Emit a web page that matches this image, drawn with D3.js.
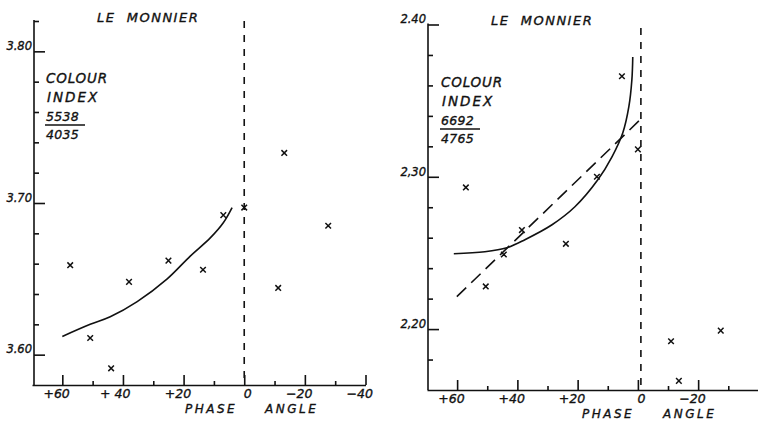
<!DOCTYPE html>
<html>
<head>
<meta charset="utf-8">
<script src="https://cdn.jsdelivr.net/npm/d3@7"></script>
<style>
  body { margin: 0; background: #fff; }
  svg { display: block; }
  text { font-family: "DejaVu Sans", sans-serif; font-style: italic; fill: #111; stroke: #111; stroke-width: 0.35px; }
</style>
</head>
<body>
<script>
// Phase angle axis (degrees)
const majorPhase = [60, 40, 20, 0, -20, -40];
const minorPhase = [50, 30, 10, -10, -30];

// Left panel: colour index 5538/4035
const leftYMajor = [3.60, 3.70, 3.80];
const leftYMajorLabels = ["3.60", "3.70", "3.80"];
const leftYMinor = [3.62, 3.64, 3.66, 3.68, 3.72, 3.74, 3.76, 3.78, 3.82];
const leftXLabels = ["+60", "+ 40", "+20", "0", "\u221220", "\u221240"];
const leftObsPhase = [57.4, 50.8, 43.9, 38.0, 25.0, 13.6, 6.9, 0.0, -13.2, -11.2, -27.7];
const leftObsIndex = [3.659, 3.611, 3.591, 3.648, 3.662, 3.656, 3.692, 3.697, 3.733, 3.644, 3.685];
const leftCurvePhase = [60, 50.8, 44.2, 35.3, 25.4, 17.8, 11.2, 6.9, 4.0];
const leftCurveIndex = [3.612, 3.620, 3.625, 3.635, 3.650, 3.665, 3.677, 3.687, 3.697];

// Right panel: colour index 6692/4765
const rightYMajor = [2.20, 2.30, 2.40];
const rightYMajorLabels = ["2,20", "2,30", "2.40"];
const rightYMinor = [2.18, 2.22, 2.24, 2.26, 2.28, 2.32, 2.34, 2.36, 2.38];
const rightXLabels = ["+60", "+40", "+20", "0", "\u221220"];
const rightObsPhase = [57.1, 50.5, 44.5, 38.5, 23.9, 13.6, 5.3, 0.0, -11.0, -13.6, -27.5];
const rightObsIndex = [2.293, 2.228, 2.249, 2.265, 2.256, 2.300, 2.366, 2.318, 2.192, 2.166, 2.199];
const rightCurvePhase = [61.1, 50.8, 43.5, 37.5, 28.5, 20.9, 13.3, 8.6, 5.0, 3.0, 2.0, 1.7];
const rightCurveIndex = [2.2495, 2.2508, 2.2534, 2.2587, 2.2685, 2.2803, 2.298, 2.3131, 2.3289, 2.346, 2.3636, 2.3787];
const rightFitPhase = [60.1, -1.7];
const rightFitIndex = [2.2213, 2.3393];

const width = 758;
const height = 426;

const svg = d3.select("body")
  .append("svg")
  .attr("width", width)
  .attr("height", height)
  .attr("viewBox", [0, 0, width, height]);

function cross(g, x, y, px, iy, r) {
  g.append("path")
    .attr("d", `M${x(px) - r},${y(iy) - r}L${x(px) + r},${y(iy) + r}M${x(px) - r},${y(iy) + r}L${x(px) + r},${y(iy) - r}`)
    .attr("stroke", "#111")
    .attr("stroke-width", 1.5)
    .attr("fill", "none");
}

function panel(p) {
  const g = svg.append("g");
  const x = d3.scaleLinear().domain([70, -40]).range(p.xRange);
  const y = d3.scaleLinear().domain(p.yDomain).range(p.yRange);

  // y axis, minor ticks then labelled major ticks (ticks point inward)
  const yMinor = g.append("g")
    .attr("transform", `translate(${p.axisX},0)`)
    .call(d3.axisLeft(y).tickValues(p.yMinor).tickSizeInner(-5).tickSizeOuter(0).tickFormat(""));
  yMinor.select(".domain").remove();

  const yAxis = g.append("g")
    .attr("transform", `translate(${p.axisX},0)`)
    .call(d3.axisLeft(y).tickValues(p.yMajor).tickSizeInner(-11).tickSizeOuter(0).tickPadding(2)
      .tickFormat((d, i) => p.yLabels[i]));
  yAxis.select(".domain").attr("d", `M0,${p.yRange[1] - 1}V${p.xAxisY}`);
  yAxis.selectAll("text").attr("dy", "-0.15em").attr("fill", "#111")
    .style("font-size", "11.5px").style("font-family", "DejaVu Sans, sans-serif");

  // x axis, ticks upward
  const xMinor = g.append("g")
    .attr("transform", `translate(0,${p.xAxisY})`)
    .call(d3.axisBottom(x).tickValues(minorPhase).tickSizeInner(-4).tickSizeOuter(0).tickFormat(""));
  xMinor.select(".domain").remove();

  const xAxis = g.append("g")
    .attr("transform", `translate(0,${p.xAxisY})`)
    .call(d3.axisBottom(x).tickValues(p.xMajor).tickSizeInner(-10).tickSizeOuter(0).tickPadding(4)
      .tickFormat((d, i) => p.xLabels[i]));
  xAxis.selectAll("text")
    .attr("text-anchor", "end")
    .attr("dx", 7)
    .attr("fill", "#111")
    .style("font-size", "12.5px")
    .style("font-family", "DejaVu Sans, sans-serif")
    .style("white-space", "pre");
  g.selectAll(".domain, .tick line").attr("stroke", "#111").attr("stroke-width", 1.6);

  // vertical dashed line at zero phase
  g.append("line")
    .attr("x1", x(0) + p.zeroShift).attr("x2", x(0) + p.zeroShift)
    .attr("y1", p.zeroTop).attr("y2", p.xAxisY)
    .attr("stroke", "#111")
    .attr("stroke-width", 1.6)
    .attr("stroke-dasharray", "7,7");

  // smooth curve
  const line = d3.line()
    .x(d => x(d[0]))
    .y(d => y(d[1]))
    .curve(d3.curveCatmullRom);
  g.append("path")
    .attr("d", line(d3.zip(p.curvePhase, p.curveIndex)))
    .attr("fill", "none")
    .attr("stroke", "#111")
    .attr("stroke-width", 1.6);

  if (p.fitPhase) {
    g.append("path")
      .attr("d", d3.line().x(d => x(d[0])).y(d => y(d[1]))(d3.zip(p.fitPhase, p.fitIndex)))
      .attr("fill", "none")
      .attr("stroke", "#111")
      .attr("stroke-width", 1.6)
      .attr("stroke-dasharray", "13,7");
  }

  p.obsPhase.forEach((ph, i) => cross(g, x, y, ph, p.obsIndex[i], 2.8));

  // annotations
  g.append("text")
    .attr("x", p.titleX).attr("y", p.titleY)
    .style("font-size", "13px")
    .style("letter-spacing", "1.5px")
    .style("white-space", "pre")
    .text("LE  MONNIER");

  const lx = p.labelX, ly = p.labelY;
  g.append("text").attr("x", lx).attr("y", ly)
    .style("font-size", "13.5px").style("letter-spacing", "0.8px").text("COLOUR");
  g.append("text").attr("x", lx + 1).attr("y", ly + 19)
    .style("font-size", "13.5px").style("letter-spacing", "2px").text("INDEX");
  g.append("text").attr("x", lx).attr("y", ly + 38)
    .style("font-size", "12.5px").style("letter-spacing", "0.3px").text(p.num);
  g.append("line")
    .attr("x1", lx - 1).attr("x2", lx + 39)
    .attr("y1", ly + 42).attr("y2", ly + 42)
    .attr("stroke", "#111").attr("stroke-width", 1.4);
  g.append("text").attr("x", lx).attr("y", ly + 56)
    .style("font-size", "12.5px").style("letter-spacing", "0.3px").text(p.den);

  g.append("text").attr("x", p.phaseX).attr("y", p.phaseY)
    .style("font-size", "12px").style("letter-spacing", "2.5px").text("PHASE");
  g.append("text").attr("x", p.angleX).attr("y", p.phaseY)
    .style("font-size", "12px").style("letter-spacing", "2.5px").text("ANGLE");
}

panel({
  xRange: [32, 365.5], yDomain: [3.58, 3.82], yRange: [385, 21],
  axisX: 34, xAxisY: 385, zeroTop: 21, zeroShift: 0,
  yMajor: leftYMajor, yLabels: leftYMajorLabels, yMinor: leftYMinor,
  xMajor: majorPhase, xLabels: leftXLabels,
  obsPhase: leftObsPhase, obsIndex: leftObsIndex,
  curvePhase: leftCurvePhase, curveIndex: leftCurveIndex,
  titleX: 97, titleY: 22, labelX: 46, labelY: 83, num: "5538", den: "4035",
  phaseX: 185, phaseY: 413, angleX: 265
});

panel({
  xRange: [427, 758.4], yDomain: [2.16, 2.40], yRange: [390, 24.5],
  axisX: 428, xAxisY: 390, zeroTop: 28, zeroShift: 3,
  yMajor: rightYMajor, yLabels: rightYMajorLabels, yMinor: rightYMinor,
  xMajor: majorPhase.slice(0, 5), xLabels: rightXLabels,
  obsPhase: rightObsPhase, obsIndex: rightObsIndex,
  curvePhase: rightCurvePhase, curveIndex: rightCurveIndex,
  fitPhase: rightFitPhase, fitIndex: rightFitIndex,
  titleX: 491, titleY: 25, labelX: 441, labelY: 87, num: "6692", den: "4765",
  phaseX: 582, phaseY: 418, angleX: 663
});
</script>
</body>
</html>
